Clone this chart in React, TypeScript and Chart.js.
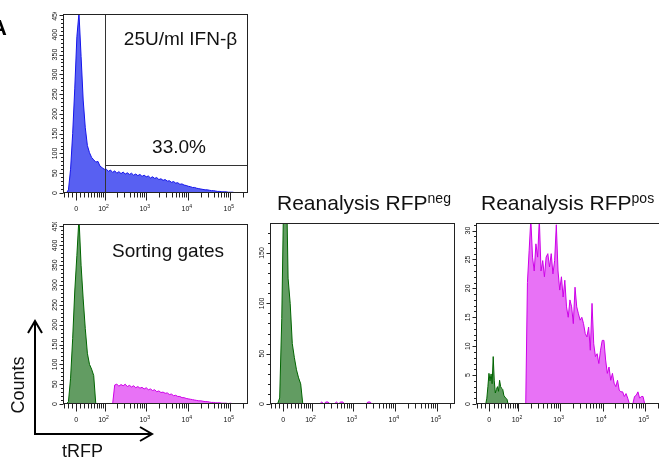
import React, { useEffect, useRef } from 'react';
import { Chart, registerables } from 'chart.js';
Chart.register(...registerables);

// ---------- display scale (biexponential-like channel units) ----------
const U_MIN = 1.02;
const U_MAX = 5.42;
const C = 21.5;
const toU = (v: number) => Math.log10(C) + Math.asinh(v / (2 * C)) / Math.LN10;

// x tick values (fluorescence), majors labelled
const X_MAJOR = [0, 100, 1000, 10000, 100000];
const X_MAJOR_LABELS = ['0', '2', '3', '4', '5'];
const X_MINOR = [-30, -20, -10, 10, 20, 30, 40, 50, 60, 70, 80, 90,
  200, 300, 400, 500, 600, 700, 800, 900,
  2000, 3000, 4000, 5000, 6000, 7000, 8000, 9000,
  20000, 30000, 40000, 50000, 60000, 70000, 80000, 90000, 200000];

// ---------- data: histogram counts per channel bin ----------
// Panel 1: 25U/ml IFN-beta (blue)
const BLUE_START = 1.10;
const BLUE_STEP = 0.05;
const BLUE_COUNTS = [
  0, 8, 60, 150, 265, 395, 455, 345, 235, 165, 120, 102, 90, 84, 78, 80, 68, 64, 60,
  60, 55, 58, 52, 56, 50, 54, 49, 53, 48, 51, 47, 50, 45, 48, 44, 47, 42, 45, 41,
  43, 38, 41, 37, 39, 34, 36, 32, 34, 30, 31, 27, 29, 25, 26, 22, 23, 20, 19, 17,
  16, 14, 14, 12, 11, 10, 9, 8, 8, 7, 6, 6, 5, 4, 4, 3, 3, 3, 2, 2, 2, 1, 1, 1, 0, 0,
];
const GATE_X = 100;
const GATE_Y = 72;

// Panel 2: sorting gates (green negative, magenta positive)
const GREEN2_START = 1.10;
const GREEN2_STEP = 0.05;
const GREEN2_COUNTS = [0, 6, 65, 165, 285, 375, 470, 350, 265, 190, 128, 100, 88, 72, 0];
const MAG2_START = 2.20;
const MAG2_STEP = 0.05;
const MAG2_COUNTS = [
  0, 48, 50, 45, 49, 46, 50, 44, 47, 43, 46, 41, 44, 40, 42, 38, 41, 36, 38, 34,
  36, 31, 33, 29, 30, 27, 28, 24, 25, 21, 22, 19, 19, 16, 16, 14, 13, 12, 11, 10,
  9, 8, 8, 7, 6, 6, 5, 4, 4, 3, 3, 3, 2, 2, 2, 1, 2, 1, 1, 1, 0,
];

// Panel 3: reanalysis RFPneg
const GREEN3_START = 1.20;
const GREEN3_STEP = 0.05;
const GREEN3_COUNTS = [0, 6, 85, 220, 250, 125, 100, 60, 46, 34, 26, 20, 0];
const MAG3_START = 2.20;
const MAG3_STEP = 0.05;
const MAG3_COUNTS = [0, 2, 0, 2, 2, 0, 0, 0, 2, 0, 2, 2, 0, 0, 0, 0, 0, 0, 0, 0, 0, 0, 0, 2, 2, 0];

// Panel 4: reanalysis RFPpos
const GREEN4_START = 1.25;
const GREEN4_STEP = 0.025;
const GREEN4_COUNTS = [0, 1, 3, 5.3, 4, 5.2, 3.5, 8.2, 4, 1.9, 2.5, 3, 2.2, 4.1, 3, 2.7, 2.5, 1.5, 1.2, 1.0, 0.8, 0];
const MAG4_START = 2.19;
const MAG4_STEP = 0.04;
const MAG4_COUNTS = [
  0, 21, 26.5, 32, 25.4, 23, 27.7, 25.4, 32, 23, 24.8, 22, 25.4, 26, 23.7, 26, 22.5, 24.8, 31, 23,
  19.7, 22, 18.5, 21.4, 16.8, 15, 18, 16.8, 13.9, 20.2, 16.8, 15.6, 14.5, 15, 13.9, 12.2, 11.6, 13.3, 9.3, 17.4,
  10.4, 8.2, 8.7, 7, 9.3, 11, 11, 7.6, 5.3, 6.4, 4.1, 5.3, 3.6, 3, 4.1, 2.4, 2.1, 2.1, 1.3, 1.8,
  1, 0, 0, 0, 1.3, 1.5, 2.1, 1, 1.3, 1.3, 0,
];

// ---------- styles ----------
const BLUE = { fill: 'rgb(88,96,242)', line: 'rgb(20,20,235)' };
const GREEN = { fill: 'rgb(98,156,98)', line: 'rgb(0,100,0)' };
const MAGENTA = { fill: 'rgb(232,114,246)', line: 'rgb(205,0,232)' };
const TICK_FONT = '7px "Liberation Sans", Arial, sans-serif';
const SUP_FONT = '5px "Liberation Sans", Arial, sans-serif';
const FRAME = '#222';

type Series = { start: number; step: number; counts: number[]; fill: string; line: string };

type PanelProps = {
  left: number; top: number; width: number; height: number;
  yMax: number; yMajor: number; yMinor: number;
  series: Series[]; gate?: { x: number; y: number };
};

const PADL = 30, PADT = 2, PADR = 2, PADB = 26;

function Panel(p: PanelProps) {
  const ref = useRef<HTMLCanvasElement>(null);
  useEffect(() => {
    if (!ref.current) return;
    const axes = {
      id: 'flowAxes',
      afterDatasetsDraw(chart: any) {
        const { ctx, chartArea: a, scales } = chart;
        const xs = scales.x, ys = scales.y;
        const L = Math.round(a.left) + 0.5, R = Math.round(a.right) - 0.5;
        const T = Math.round(a.top) + 0.5, B = Math.round(a.bottom) - 0.5;
        ctx.save();
        ctx.lineWidth = 1;
        // gate
        if (p.gate) {
          ctx.strokeStyle = '#333';
          const gx = Math.round(xs.getPixelForValue(toU(p.gate.x))) + 0.5;
          const gy = Math.round(ys.getPixelForValue(p.gate.y)) + 0.5;
          ctx.beginPath();
          ctx.moveTo(gx, T); ctx.lineTo(gx, B);
          ctx.moveTo(gx, gy); ctx.lineTo(R, gy);
          ctx.stroke();
        }
        // frame
        ctx.strokeStyle = FRAME;
        ctx.strokeRect(L, T, R - L, B - T);
        // x ticks
        ctx.beginPath();
        const xt = (v: number, len: number) => {
          const px = xs.getPixelForValue(toU(v));
          if (px < a.left - 0.5 || px > a.right + 0.5) return;
          const X = Math.round(px) + 0.5;
          ctx.moveTo(X, B); ctx.lineTo(X, B + len);
        };
        X_MINOR.forEach((v) => xt(v, 5));
        X_MAJOR.forEach((v) => xt(v, 8));
        // y ticks
        for (let c = 0; c <= p.yMax + 1e-6; c += p.yMinor) {
          const Y = Math.round(ys.getPixelForValue(c)) + 0.5;
          const major = Math.abs(c / p.yMajor - Math.round(c / p.yMajor)) < 1e-6;
          ctx.moveTo(L - (major ? 4 : 2.5), Y); ctx.lineTo(L, Y);
        }
        ctx.stroke();
        // x labels
        ctx.fillStyle = '#111';
        ctx.textBaseline = 'middle';
        X_MAJOR.forEach((v, i) => {
          const px = xs.getPixelForValue(toU(v));
          const ly = B + 17;
          if (v === 0) {
            ctx.font = TICK_FONT; ctx.textAlign = 'center';
            ctx.fillText('0', px, ly);
          } else {
            ctx.font = TICK_FONT; ctx.textAlign = 'right';
            ctx.fillText('10', px + 1, ly);
            ctx.font = SUP_FONT; ctx.textAlign = 'left';
            ctx.fillText(X_MAJOR_LABELS[i], px + 1, ly - 3);
          }
        });
        // y labels (rotated)
        ctx.font = TICK_FONT;
        ctx.textAlign = 'center';
        for (let c = 0; c <= p.yMax + 1e-6; c += p.yMajor) {
          const Y = ys.getPixelForValue(c);
          ctx.save();
          ctx.translate(L - 8, Y);
          ctx.rotate(-Math.PI / 2);
          ctx.fillText(String(c), 0, 0);
          ctx.restore();
        }
        ctx.restore();
      },
    };
    const chart = new Chart(ref.current, {
      type: 'line',
      data: {
        datasets: p.series.map((s) => ({
          data: s.counts.map((v, i) => ({ x: s.start + i * s.step, y: v })),
          fill: 'origin',
          backgroundColor: s.fill,
          borderColor: s.line,
          borderWidth: 1,
          pointRadius: 0,
          tension: 0,
        })),
      },
      options: {
        animation: false,
        responsive: false,
        maintainAspectRatio: false,
        devicePixelRatio: 1,
        events: [],
        layout: { padding: { left: PADL, top: PADT, right: PADR, bottom: PADB } },
        plugins: { legend: { display: false }, tooltip: { enabled: false } },
        scales: {
          x: { type: 'linear', display: false, min: U_MIN, max: U_MAX },
          y: { type: 'linear', display: false, min: 0, max: p.yMax },
        },
      },
      plugins: [axes],
    } as any);
    return () => chart.destroy();
  }, []);
  const w = p.width + PADL + PADR, h = p.height + PADT + PADB;
  return (
    <canvas ref={ref} width={w} height={h}
      style={{ position: 'absolute', left: p.left - PADL, top: p.top - PADT, width: w, height: h }} />
  );
}

const FONT = '"Liberation Sans", Arial, sans-serif';

export default function App() {
  return (
    <div style={{ position: 'absolute', left: 0, top: 0, width: 659, height: 463, overflow: 'hidden', background: '#fff' }}>
      <Panel left={63} top={14} width={185} height={179} yMax={452.5} yMajor={50} yMinor={10}
        series={[{ start: BLUE_START, step: BLUE_STEP, counts: BLUE_COUNTS, ...BLUE }]}
        gate={{ x: GATE_X, y: GATE_Y }} />
      <Panel left={63} top={224} width={185} height={180} yMax={454} yMajor={50} yMinor={10}
        series={[
          { start: GREEN2_START, step: GREEN2_STEP, counts: GREEN2_COUNTS, ...GREEN },
          { start: MAG2_START, step: MAG2_STEP, counts: MAG2_COUNTS, ...MAGENTA },
        ]} />
      <Panel left={270} top={223} width={185} height={181} yMax={179.8} yMajor={50} yMinor={10}
        series={[
          { start: GREEN3_START, step: GREEN3_STEP, counts: GREEN3_COUNTS, ...GREEN },
          { start: MAG3_START, step: MAG3_STEP, counts: MAG3_COUNTS, ...MAGENTA },
        ]} />
      <Panel left={476} top={223} width={187} height={181} yMax={31.3} yMajor={5} yMinor={1}
        series={[
          { start: GREEN4_START, step: GREEN4_STEP, counts: GREEN4_COUNTS, ...GREEN },
          { start: MAG4_START, step: MAG4_STEP, counts: MAG4_COUNTS, ...MAGENTA },
        ]} />
      <svg width={659} height={463} style={{ position: 'absolute', left: 0, top: 0 }} fontFamily={FONT}>
        <text x={-9} y={35} fontSize={22} fontWeight="bold" fill="#000">A</text>
        <text x={180.5} y={45} fontSize={19} textAnchor="middle" fill="#111">25U/ml IFN-β</text>
        <text x={179} y={153} fontSize={19} textAnchor="middle" fill="#111">33.0%</text>
        <text x={168} y={257} fontSize={19} textAnchor="middle" fill="#111">Sorting gates</text>
        <text x={277} y={210} fontSize={21} fill="#111">Reanalysis RFP<tspan fontSize={14} dy={-7}>neg</tspan></text>
        <text x={481} y={210} fontSize={21} fill="#111">Reanalysis RFP<tspan fontSize={14} dy={-7}>pos</tspan></text>
        <text transform="translate(24,385) rotate(-90)" fontSize={18} textAnchor="middle" fill="#111">Counts</text>
        <text x={82.5} y={457} fontSize={18} textAnchor="middle" fill="#111">tRFP</text>
        <g stroke="#000" strokeWidth={2} fill="none">
          <line x1={35} y1={321} x2={35} y2={435} />
          <line x1={34} y1={434} x2={151} y2={434} />
          <polyline points="28,333 35,321 42,333" />
          <polyline points="140,427 152,434 140,441" />
        </g>
      </svg>
    </div>
  );
}
